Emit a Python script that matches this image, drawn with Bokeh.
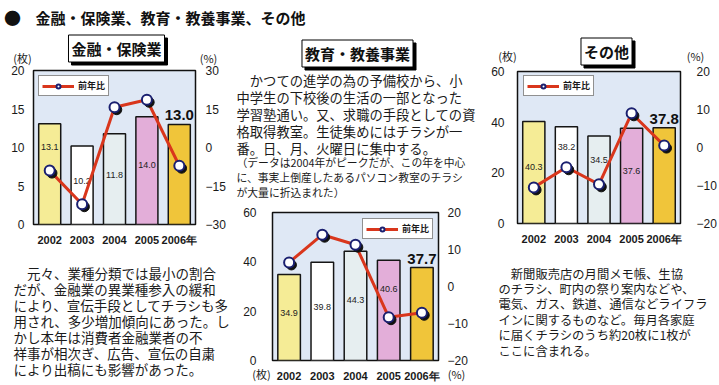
from bokeh.plotting import figure
from bokeh.models import (FactorRange, Range1d, LinearAxis, FixedTicker, Label,
                          Legend, LegendItem, ColumnDataSource)
from bokeh.transform import dodge
from bokeh.core.properties import value
from bokeh.embed import file_html
from bokeh.resources import INLINE

# ---------------- data ----------------
years = ["2002", "2003", "2004", "2005", "2006年"]

fin_sheets = [13.1, 10.2, 11.8, 14.0, 13.0]      # 金融・保険業 (枚)
fin_yoy = [-9.0, -22.1, 15.7, 18.6, -7.1]        # 前年比 (%)

edu_sheets = [34.9, 39.8, 44.3, 40.6, 37.7]      # 教育・教養事業 (枚)
edu_yoy = [6.5, 14.0, 11.3, -8.3, -7.1]          # 前年比 (%)

oth_sheets = [40.3, 38.2, 34.5, 37.6, 37.8]      # その他 (枚)
oth_yoy = [-10.5, -5.2, -9.7, 9.0, 0.5]          # 前年比 (%)

fin_left_ticks = [0, 5, 10, 15, 20]
fin_right_ticks = [-30, -15, 0, 15, 30]
big_left_ticks = [0, 20, 40, 60]
big_right_ticks = [-20, -10, 0, 10, 20]

header_text = "金融・保険業、教育・教養事業、その他"
fin_title = "金融・保険業"
edu_title = "教育・教養事業"
oth_title = "その他"
legend_label = "前年比"

fin_para = ["　元々、業種分類では最小の割合",
            "だが、金融業の異業種参入の緩和",
            "により、宣伝手段としてチラシも多",
            "用され、多少増加傾向にあった。し",
            "かし本年は消費者金融業者の不",
            "祥事が相次ぎ、広告、宣伝の自粛",
            "により出稿にも影響があった。"]
edu_para = ["　かつての進学の為の予備校から、小",
            "中学生の下校後の生活の一部となった",
            "学習塾通い。又、求職の手段としての資",
            "格取得教室。生徒集めにはチラシが一",
            "番。日、月、火曜日に集中する。"]
edu_note = ["（データは2004年がピークだが、この年を中心",
            "に、事実上倒産したあるパソコン教室のチラシ",
            "が大量に折込まれた）"]
oth_para = ["　新聞販売店の月間メモ帳、生協",
            "のチラシ、町内の祭り案内などや、",
            "電気、ガス、鉄道、通信などライフラ",
            "インに関するものなど。毎月各家庭",
            "に届くチラシのうち約20枚に1枚が",
            "ここに含まれる。"]

# ---------------- styles ----------------
JP = "Noto Sans CJK JP"
NUM = "Liberation Sans"
INK = "#1a1a1a"
bar_colors = ["#f5ec96", "#ffffff", "#e6eef0", "#e3aed9", "#f0c53a"]
LINE_RED = "#d9361c"
MARK_EDGE = "#1b2070"
FRAME_BG = "#dfe8f5"
PAGE_W, PAGE_H = 719, 385


def inner_label_heights(sheets, yoy, ymax, rlim, frame_h):
    """Mid-bar label heights, moved off the year-on-year marker when they would collide."""
    px = frame_h / ymax
    out = []
    for v, r in zip(sheets, yoy):
        m = (r - rlim[0]) / (rlim[1] - rlim[0]) * ymax      # marker in bar units
        y = v * 0.55
        if abs(y - m) * px < 12 and 0 < m < v:
            y = (m + v) / 2 if (v - m) * px >= 30 else m / 2
        out.append(y)
    return out


def chart(name, left, top, width, height, frame, sheets, yoy, ymax, lticks,
          rlim, rticks, lstand, rstand, legend_tl):
    fx0, fy0, fx1, fy1 = frame          # frame edges in page pixels
    p = figure(name=name, width=width, height=height,
               x_range=FactorRange(factors=years, range_padding=0),
               y_range=Range1d(0, ymax),
               output_backend="svg", toolbar_location=None, tools="",
               min_border_left=fx0 - left, min_border_right=left + width - fx1,
               min_border_top=fy0 - top, min_border_bottom=top + height - fy1)
    p.extra_y_ranges = {"pct": Range1d(*rlim)}
    p.background_fill_color = FRAME_BG
    p.border_fill_color = "white"
    p.outline_line_color = "#111111"
    p.outline_line_width = 1.5
    p.xgrid.visible = False
    p.ygrid.visible = False

    src = ColumnDataSource(dict(x=years, top=sheets, color=bar_colors))
    p.vbar(x="x", top="top", width=0.68, fill_color="color", line_color="#151515",
           line_width=1.5, source=src)

    frame_h = fy1 - fy0
    # inner value labels (first four bars)
    p.text(x=years[:4], y=inner_label_heights(sheets[:4], yoy[:4], ymax, rlim, frame_h),
           text=[f"{v:.1f}" for v in sheets[:4]], text_align="center",
           text_baseline="middle", text_font=value(NUM), text_font_size="9px",
           text_color="#222222")
    # bold value above last bar
    p.text(x=years[-1:], y=sheets[-1:], text=[f"{sheets[-1]:.1f}"],
           text_align="center", text_baseline="bottom", y_offset=-4,
           text_font=value(NUM), text_font_style="bold", text_font_size="15px",
           text_color="#111111")

    shift = (rlim[1] - rlim[0]) / frame_h * 2.5
    lsrc = ColumnDataSource(dict(x=years, y=yoy, ys=[v - shift for v in yoy]))
    ln = p.line(x="x", y="y", source=lsrc, y_range_name="pct", line_color=LINE_RED,
                line_width=3)
    p.scatter(x=dodge("x", 0.07, range=p.x_range), y="ys", source=lsrc,
              y_range_name="pct", size=10, fill_color="#111111", line_color="#111111")
    mk = p.scatter(x="x", y="y", source=lsrc, y_range_name="pct", size=10,
                   fill_color="white", line_color=MARK_EDGE, line_width=2)

    lx, ly = legend_tl
    leg = Legend(items=[LegendItem(label=legend_label, renderers=[ln, mk])],
                 location=(lx - fx0, fy1 - (ly + 16)), margin=0, padding=3,
                 spacing=0, glyph_width=32, glyph_height=10, label_height=10,
                 label_standoff=4, label_text_font=JP, label_text_font_size="9px",
                 label_text_font_style="bold", label_text_color=INK,
                 border_line_color="#222222", border_line_width=1,
                 background_fill_color="white", background_fill_alpha=1.0)
    p.add_layout(leg)

    p.yaxis.ticker = FixedTicker(ticks=lticks)
    rax = LinearAxis(y_range_name="pct", ticker=FixedTicker(ticks=rticks))
    p.add_layout(rax, "right")
    for ax, st in [(p.yaxis[0], lstand), (rax, rstand)]:
        ax.axis_line_color = None
        ax.major_tick_line_color = None
        ax.minor_tick_line_color = None
        ax.major_label_standoff = st
        ax.major_label_text_font = NUM
        ax.major_label_text_font_size = "12px"
        ax.major_label_text_color = INK
    xa = p.xaxis[0]
    xa.axis_line_color = None
    xa.major_tick_line_color = None
    xa.major_label_standoff = 3
    xa.major_label_text_font = NUM
    xa.major_label_text_font_size = "11px"
    xa.major_label_text_font_style = "bold"
    xa.major_label_text_color = INK
    return p


p1 = chart("fin", 0, 60, 234, 195, (33, 70, 195, 224), fin_sheets, fin_yoy, 20,
           fin_left_ticks, (-30, 30), fin_right_ticks, 3, 4, (38, 80))
p2 = chart("edu", 234, 200, 246, 185, (272, 212, 438, 360), edu_sheets, edu_yoy, 60,
           big_left_ticks, (-20, 20), big_right_ticks, 10, 3, (362, 223))
p3 = chart("oth", 480, 60, 239, 195, (517, 71, 682, 223), oth_sheets, oth_yoy, 60,
           big_left_ticks, (-20, 20), big_right_ticks, 7, 10, (523, 80))

# ---------------- transparent text layer over the whole page ----------------
txt = figure(name="txt", width=PAGE_W, height=PAGE_H, output_backend="svg",
             toolbar_location=None, tools="", min_border=0,
             x_axis_type=None, y_axis_type=None)
txt.outline_line_color = None
txt.background_fill_alpha = 0
txt.border_fill_alpha = 0


def put(px, py, text, size, bold=False, align="left", font=JP, color=INK, **kw):
    txt.add_layout(Label(x=px, y=PAGE_H - py, x_units="screen", y_units="screen",
                         text=text, text_font=font, text_font_size=f"{size}px",
                         text_font_style="bold" if bold else "normal",
                         text_align=align, text_baseline="middle",
                         text_color=color, **kw))


def title_box(cx, cy, text):
    put(cx + 3, cy + 3, text, 15, bold=True, align="center", color="black",
        background_fill_color="black", border_line_color="black", padding=3)
    put(cx, cy, text, 15, bold=True, align="center", color="#111111",
        background_fill_color="white", border_line_color="black",
        border_line_width=1, padding=3)


def paragraph(x0, y0, step, lines, size):
    for i, t in enumerate(lines):
        put(x0, y0 + i * step, t, size)


put(12, 17, "●", 17, align="center", color="#111111")
put(35, 17, header_text, 15, bold=True, color="#111111")

title_box(116, 48, fin_title)
put(22, 57, "(枚)", 11, align="center")
put(208, 57, "(%)", 11, align="center")
paragraph(13, 272, 16, fin_para, 13.5)

title_box(357, 53, edu_title)
paragraph(236, 80, 17, edu_para, 13.3)
paragraph(236, 161, 15, edu_note, 10.8)
put(261, 373, "(枚)", 11, align="center")
put(456, 373, "(%)", 11, align="center")

title_box(606, 51, oth_title)
put(507, 55, "(枚)", 11, align="center")
put(695, 55, "(%)", 11, align="center")
paragraph(498, 273, 15.4, oth_para, 12.3)


# ---------------- page: each piece placed at its own spot ----------------
def slot(name, left, top):
    return ('<div style="position:absolute;left:' + str(left) + 'px;top:' + str(top)
            + 'px;">{{ embed(roots.' + name + ') }}</div>')


container = ('<div style="position:relative;width:' + str(PAGE_W) + 'px;height:'
             + str(PAGE_H) + 'px;overflow:hidden;">')
TEMPLATE = ("{% block contents %}" + container
            + slot("fin", 0, 60) + slot("edu", 234, 200) + slot("oth", 480, 60)
            + slot("txt", 0, 0) + "</div>{% endblock %}")

open("out.html", "w").write(file_html([p1, p2, p3, txt], INLINE, "chart",
                                      template=TEMPLATE))
